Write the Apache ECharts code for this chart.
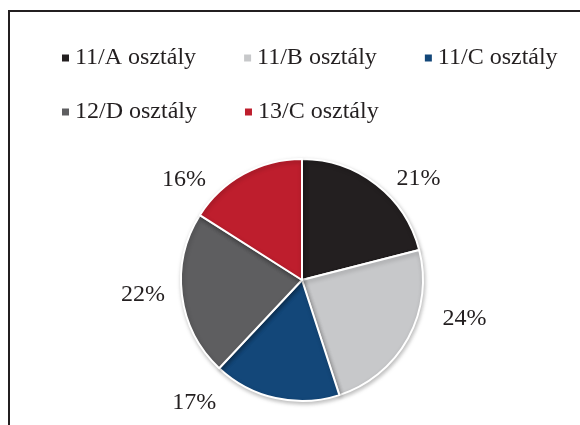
<!DOCTYPE html>
<html>
<head>
<meta charset="utf-8">
<script src="https://cdn.jsdelivr.net/npm/echarts@6/dist/echarts.min.js"></script>
<style>
  html, body { margin: 0; padding: 0; background: #fff; }
  #chart { width: 580px; height: 425px; }
</style>
</head>
<body>
<div id="chart"></div>
<script>
// osztályok és arányuk (%)
const classes = ["11/A osztály", "11/B osztály", "11/C osztály", "12/D osztály", "13/C osztály"];
const shares = [21, 24, 17, 22, 16];
const colors = ["#231f20", "#c7c8ca", "#134779", "#5e5e60", "#be1e2d"];
// label nudges so the percentages sit where the original puts them
const labelOffsets = [[3, 10], [12, -29], [-50, -15], [8, -3], [-23, 23]];

const font = "Liberation Serif";
const chart = echarts.init(document.getElementById("chart"));

const legendBase = {
  left: 55,
  icon: "rect",
  itemWidth: 9,
  itemHeight: 9,
  itemGap: 46,
  textStyle: { fontFamily: font, fontSize: 24, color: "#231f20" },
};

chart.setOption({
  animation: false,
  legend: [
    Object.assign({ data: classes.slice(0, 3), top: 41 }, legendBase),
    Object.assign({ data: classes.slice(3), top: 95 }, legendBase),
  ],
  graphic: [
    {
      type: "polyline",
      shape: { points: [[9, 425], [9, 11], [580, 11]] },
      style: { stroke: "#231f20", lineWidth: 2, fill: null },
    },
  ],
  series: [
    {
      type: "pie",
      center: [302, 280],
      radius: 121,
      startAngle: 90,
      clockwise: true,
      avoidLabelOverlap: false,
      itemStyle: {
        borderColor: "#fff",
        borderWidth: 2,
        shadowBlur: 4,
        shadowColor: "rgba(0,0,0,0.25)",
        shadowOffsetX: 1,
        shadowOffsetY: 2,
      },
      label: {
        show: true,
        position: "outside",
        formatter: "{c}%",
        fontFamily: font,
        fontSize: 24,
        color: "#231f20",
      },
      labelLine: { show: false, length: 20, length2: 0 },
      emphasis: { disabled: true },
      data: classes.map((name, i) => ({
        name: name,
        value: shares[i],
        itemStyle: { color: colors[i] },
        label: { offset: labelOffsets[i] },
      })),
    },
  ],
});
</script>
</body>
</html>
